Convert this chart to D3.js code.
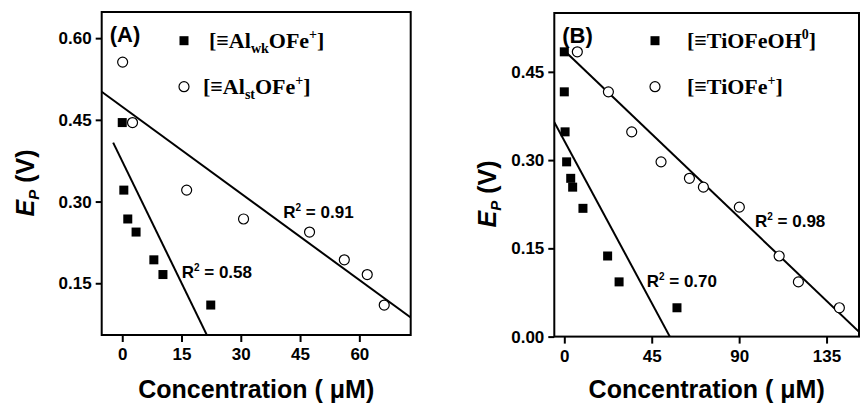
<!DOCTYPE html>
<html>
<head>
<meta charset="utf-8">
<script src="https://cdn.jsdelivr.net/npm/d3@7"></script>
<style>
    body { margin: 0; background: #fff; }
    svg { display: block; }
</style>
</head>
<body>
<script>
// ----- data -----
// panel A, weak sites (filled squares)
var aWkConc = [0, 0.4, 1.4, 3.5, 8.0, 10.3, 22.4];
var aWkEp   = [0.445, 0.321, 0.268, 0.244, 0.193, 0.166, 0.110];
// panel A, strong sites (open circles)
var aStConc = [0.1, 2.6, 16.3, 30.7, 47.4, 56.2, 62.0, 66.3];
var aStEp   = [0.556, 0.445, 0.321, 0.268, 0.244, 0.193, 0.166, 0.110];
// panel B, TiOFeOH0 (filled squares)
var bOhConc = [0, 0, 0.4, 1.2, 3.3, 4.3, 9.6, 22.3, 28.2, 58.0];
var bOhEp   = [0.484, 0.416, 0.348, 0.297, 0.269, 0.254, 0.218, 0.137, 0.093, 0.049];
// panel B, TiOFe+ (open circles)
var bFeConc = [6.7, 22.7, 34.7, 49.8, 64.4, 71.6, 90.1, 110.6, 120.5, 141.6];
var bFeEp   = [0.484, 0.416, 0.348, 0.297, 0.269, 0.254, 0.220, 0.137, 0.093, 0.049];

// fitted lines: slope, intercept and x extent
var aFitSlope = [-0.0149, -0.0053];
var aFitIntercept = [0.374, 0.474];
var aFitFrom = [-2.3, -5.2];
var aFitTo = [21.4, 73];
var aR2 = ["0.58", "0.91"];

var bFitSlope = [-0.00613, -0.00315];
var bFitIntercept = [0.333, 0.486];
var bFitFrom = [-5.15, -1];
var bFitTo = [54.4, 151.7];
var bR2 = ["0.70", "0.98"];

// axes
var aXDomain = [-5.2, 73];
var aYDomain = [0.055, 0.648];
var aXTicks = [0, 15, 30, 45, 60];
var aYTicks = [0.15, 0.30, 0.45, 0.60];
var bXDomain = [-5.15, 151.7];
var bYDomain = [0, 0.55];
var bXTicks = [0, 45, 90, 135];
var bYTicks = [0.00, 0.15, 0.30, 0.45];

function init() {
    var w = 860;
    var h = 408;
    var sans = "'Liberation Sans', Arial, sans-serif";
    var serif = "'Liberation Serif', 'Times New Roman', serif";

    var svg = d3.select("body")
                .append("svg")
                .attr("width", w)
                .attr("height", h)
                .style("font-family", sans);

    // draws one panel
    function panel(opt) {
        var xScale = d3.scaleLinear()
                        .domain(opt.xDomain)
                        .range([opt.left, opt.right]);
        var yScale = d3.scaleLinear()
                        .domain(opt.yDomain)
                        .range([opt.bottom, opt.top]);

        var g = svg.append("g");
        var clipId = "clip" + opt.id;
        g.append("clipPath")
            .attr("id", clipId)
            .append("rect")
            .attr("x", opt.left)
            .attr("y", opt.top)
            .attr("width", opt.right - opt.left)
            .attr("height", opt.bottom - opt.top);

        // axes
        var xAxis = d3.axisBottom(xScale)
                    .tickValues(opt.xTicks)
                    .tickSize(7)
                    .tickPadding(6)
                    .tickFormat(d3.format("d"));
        var yAxis = d3.axisLeft(yScale)
                    .tickValues(opt.yTicks)
                    .tickSize(6)
                    .tickPadding(4)
                    .tickFormat(d3.format(".2f"));

        var gx = g.append("g")
            .attr("transform", "translate(0," + opt.bottom + ")")
            .call(xAxis);
        var gy = g.append("g")
            .attr("transform", "translate(" + opt.left + ",0)")
            .call(yAxis);
        [gx, gy].forEach(function(a) {
            a.select(".domain").remove();
            a.selectAll("line").attr("stroke", "#000").attr("stroke-width", 2);
            a.selectAll("text")
                .attr("fill", "#000")
                .style("font-family", sans)
                .style("font-weight", "bold")
                .style("font-size", "17px");
        });

        // frame
        g.append("rect")
            .attr("x", opt.left)
            .attr("y", opt.top)
            .attr("width", opt.right - opt.left)
            .attr("height", opt.bottom - opt.top)
            .attr("fill", "none")
            .attr("stroke", "#000")
            .attr("stroke-width", 2);

        // fit lines
        var plot = g.append("g").attr("clip-path", "url(#" + clipId + ")");
        opt.slope.forEach(function(s, i) {
            var x0 = opt.from[i], x1 = opt.to[i];
            plot.append("line")
                .attr("x1", xScale(x0))
                .attr("y1", yScale(opt.intercept[i] + s * x0))
                .attr("x2", xScale(x1))
                .attr("y2", yScale(opt.intercept[i] + s * x1))
                .attr("stroke", "#000")
                .attr("stroke-width", 2);
        });

        // filled squares
        plot.selectAll("rect.sq")
            .data(opt.sqX)
            .enter()
            .append("rect")
            .attr("class", "sq")
            .attr("x", function(d) { return xScale(d) - 4.5; })
            .attr("y", function(d, i) { return yScale(opt.sqY[i]) - 4.5; })
            .attr("width", 9)
            .attr("height", 9)
            .attr("fill", "#000");

        // open circles
        plot.selectAll("circle.op")
            .data(opt.ciX)
            .enter()
            .append("circle")
            .attr("class", "op")
            .attr("cx", function(d) { return xScale(d); })
            .attr("cy", function(d, i) { return yScale(opt.ciY[i]); })
            .attr("r", 5)
            .attr("fill", "#fff")
            .attr("stroke", "#000")
            .attr("stroke-width", 1.2);

        // R^2 labels
        opt.r2.forEach(function(r, i) {
            var t = g.append("text")
                .attr("x", opt.r2Pos[i][0])
                .attr("y", opt.r2Pos[i][1])
                .style("font-weight", "bold")
                .style("font-size", "17px");
            t.append("tspan").text("R");
            t.append("tspan").attr("dy", -7).style("font-size", "10px").text("2");
            t.append("tspan").attr("dy", 7).text(" = " + r);
        });

        // panel letter
        g.append("text")
            .attr("x", opt.left + 8)
            .attr("y", opt.top + 30)
            .style("font-weight", "bold")
            .style("font-size", "22px")
            .text(opt.letter);

        // legend
        g.append("rect")
            .attr("x", opt.legX - 4.5)
            .attr("y", opt.legY[0] - 4.5)
            .attr("width", 9)
            .attr("height", 9)
            .attr("fill", "#000");
        g.append("circle")
            .attr("cx", opt.legX)
            .attr("cy", opt.legY[1])
            .attr("r", 5)
            .attr("fill", "#fff")
            .attr("stroke", "#000")
            .attr("stroke-width", 1.2);
        opt.legText.forEach(function(parts, i) {
            var t = g.append("text")
                .attr("x", opt.legTextX[i])
                .attr("y", opt.legY[i] + 7)
                .style("font-family", serif)
                .style("font-weight", "bold")
                .style("font-size", "22px");
            var shift = 0;
            parts.forEach(function(p) {
                var dy = 0;
                if (p[1] === "sub") { dy = 5 - shift; shift = 5; }
                else if (p[1] === "sup") { dy = -9 - shift; shift = -9; }
                else { dy = -shift; shift = 0; }
                var ts = t.append("tspan").attr("dy", dy).text(p[0]);
                if (p[1] !== "n") ts.style("font-size", "14px");
            });
        });

        // x title
        svg.append("text")
            .attr("x", (opt.left + opt.right) / 2)
            .attr("y", 398)
            .attr("text-anchor", "middle")
            .style("font-weight", "bold")
            .style("font-size", "25px")
            .text("Concentration ( \u03bcM)");

        // y title
        var yt = svg.append("text")
            .attr("transform", "translate(" + opt.yTitleX + "," + opt.yTitleY + ") rotate(-90)")
            .attr("text-anchor", "middle")
            .style("font-weight", "bold")
            .style("font-size", "25px");
        yt.append("tspan").style("font-style", "italic").text("E");
        yt.append("tspan").attr("dy", 5).style("font-style", "italic").style("font-size", "15px").text("P");
        yt.append("tspan").attr("dy", -5).text(" (V)");
    }

    panel({
        id: "A", letter: "(A)",
        left: 101.7, right: 410.7, top: 12, bottom: 335,
        xDomain: aXDomain, yDomain: aYDomain, xTicks: aXTicks, yTicks: aYTicks,
        sqX: aWkConc, sqY: aWkEp, ciX: aStConc, ciY: aStEp,
        slope: aFitSlope, intercept: aFitIntercept, from: aFitFrom, to: aFitTo,
        r2: aR2, r2Pos: [[181.7, 278.3], [283.3, 218.3]],
        legX: 184, legY: [40.7, 86.7], legTextX: [209, 203],
        legText: [
            [["[\u2261Al", "n"], ["wk", "sub"], ["OFe", "n"], ["+", "sup"], ["]", "n"]],
            [["[\u2261Al", "n"], ["st", "sub"], ["OFe", "n"], ["+", "sup"], ["]", "n"]]
        ],
        yTitleX: 34, yTitleY: 183
    });

    panel({
        id: "B", letter: "(B)",
        left: 554.3, right: 859, top: 13, bottom: 336.6,
        xDomain: bXDomain, yDomain: bYDomain, xTicks: bXTicks, yTicks: bYTicks,
        sqX: bOhConc, sqY: bOhEp, ciX: bFeConc, ciY: bFeEp,
        slope: bFitSlope, intercept: bFitIntercept, from: bFitFrom, to: bFitTo,
        r2: bR2, r2Pos: [[646.7, 287.3], [755, 226.7]],
        legX: 655, legY: [40.7, 86.7], legTextX: [687, 687],
        legText: [
            [["[\u2261TiOFeOH", "n"], ["0", "sup"], ["]", "n"]],
            [["[\u2261TiOFe", "n"], ["+", "sup"], ["]", "n"]]
        ],
        yTitleX: 496, yTitleY: 194
    });
}
window.onload = init;
</script>
</body>
</html>
